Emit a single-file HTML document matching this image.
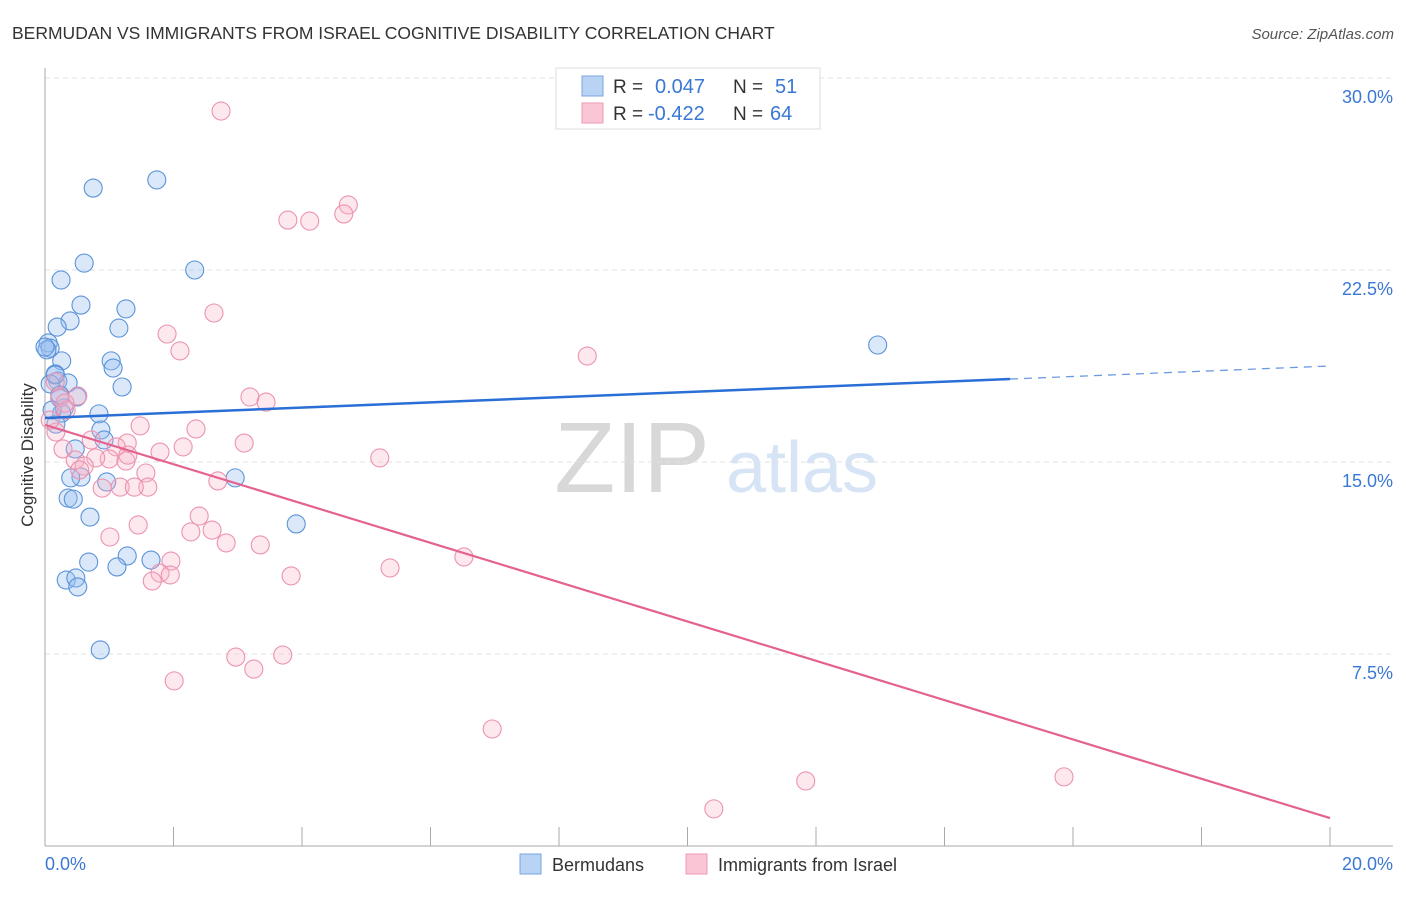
<!DOCTYPE html>
<html><head><meta charset="utf-8"><style>
body{margin:0;background:#fff;font-family:"Liberation Sans",sans-serif;}
svg text{font-family:"Liberation Sans",sans-serif;}
</style></head><body>
<svg id="chart" width="1406" height="892" xmlns="http://www.w3.org/2000/svg">
<text x="12" y="39" font-size="17.5" fill="#333">BERMUDAN VS IMMIGRANTS FROM ISRAEL COGNITIVE DISABILITY CORRELATION CHART</text>
<text x="1394" y="39" font-size="15" fill="#555" font-style="italic" text-anchor="end">Source: ZipAtlas.com</text>
<g>
<text x="632" y="492" font-size="100" fill="#d8d8d8" font-family="Liberation Serif,serif" text-anchor="middle">ZIP</text>
<text x="802" y="492" font-size="72" fill="#d6e4f5" text-anchor="middle">atlas</text>
</g>
<g id="grid"></g>
<g id="axes"></g>
<g id="marks"></g>
<text x="33" y="455" font-size="17" fill="#333" text-anchor="middle" transform="rotate(-90 33 455)">Cognitive Disability</text>
<g>
<rect x="556" y="68" width="264" height="61" fill="#fff" stroke="#ddd"/>
<rect x="582" y="76" width="21" height="20" fill="#b9d3f5" stroke="#7aa6e0"/>
<rect x="582" y="103" width="21" height="20" fill="#fac6d5" stroke="#ee9ab5"/>
<text x="613" y="93" font-size="19" fill="#333">R = </text><text x="655" y="93" font-size="20" fill="#3a78d4">0.047</text>
<text x="733" y="93" font-size="19" fill="#333">N = </text><text x="775" y="93" font-size="20" fill="#3a78d4">51</text>
<text x="613" y="120" font-size="19" fill="#333">R = </text><text x="648" y="120" font-size="20" fill="#3a78d4">-0.422</text>
<text x="733" y="120" font-size="19" fill="#333">N = </text><text x="770" y="120" font-size="20" fill="#3a78d4">64</text>
</g>
<g>
<rect x="520" y="854" width="21" height="20" fill="#b9d3f5" stroke="#7aa6e0"/>
<text x="552" y="871" font-size="18" fill="#333">Bermudans</text>
<rect x="686" y="854" width="21" height="20" fill="#fac6d5" stroke="#ee9ab5"/>
<text x="718" y="871" font-size="18" fill="#333">Immigrants from Israel</text>
</g>
</svg>
<script>
const blueX=[0.75,1.74,0.61,2.33,0.25,0.56,1.26,0.39,0.19,1.15,0.05,0.08,1.03,0.26,1.06,0.16,0.20,0.36,1.20,0.08,0.50,0.23,0.30,0.84,0.26,0.17,0.87,0.92,0.47,0.96,0.56,0.40,0.36,0.44,2.96,0.70,3.91,1.28,1.65,0.68,1.12,0.33,0.48,0.51,0.86,12.96,0.03,0.11,0.23,0.0,0.16];
const blueY=[25.70,26.02,22.77,22.50,22.11,21.13,20.98,20.51,20.27,20.23,19.65,19.45,18.95,18.95,18.67,18.44,18.16,18.09,17.93,18.05,17.54,17.50,17.11,16.88,16.91,16.48,16.25,15.86,15.51,14.22,14.41,14.38,13.59,13.55,14.38,12.85,12.58,11.33,11.17,11.09,10.90,10.39,10.47,10.12,7.66,19.57,19.38,17.03,17.62,19.49,18.40];
const pinkX=[2.74,4.72,4.65,3.78,4.12,2.63,1.90,2.10,8.44,3.19,3.44,0.51,0.16,0.23,0.33,0.17,1.48,2.35,1.28,1.11,2.15,3.10,0.72,1.79,0.28,0.47,1.00,1.26,0.79,0.61,1.57,5.21,2.69,0.89,1.17,1.60,1.39,2.40,1.45,2.27,2.60,1.01,2.82,3.35,1.96,6.52,1.79,1.67,3.83,5.37,2.97,3.70,3.25,2.01,6.96,11.84,15.86,10.41,0.54,0.08,0.31,1.29,1.95];
const pinkY=[28.71,25.04,24.69,24.45,24.41,20.82,20.00,19.34,19.14,17.54,17.34,17.58,18.13,17.54,17.03,16.17,16.41,16.29,15.74,15.59,15.59,15.74,15.86,15.39,15.51,15.08,15.12,15.04,15.16,14.84,14.57,15.16,14.26,13.98,14.02,14.02,14.02,12.89,12.54,12.27,12.34,12.07,11.84,11.76,11.13,11.29,10.66,10.35,10.55,10.86,7.38,7.46,6.91,6.45,4.57,2.54,2.70,1.45,14.69,16.64,17.30,15.27,10.59];
const blueTrend=[16.72,18.24,18.75];
const blueTrendX=[0,15.02,20];
const pinkTrend=[16.45,1.09];
const pinkTrendX=[0,20];
const yTicks=[7.5,15.0,22.5,30.0];
const yTickLabels=["7.5%","15.0%","22.5%","30.0%"];
const xTicks=[0,2,4,6,8,10,12,14,16,18,20];
const NS="http://www.w3.org/2000/svg";
const sx=v=>45+v/20*1285;
const sy=v=>846-v/30*768;
function mk(tag,attrs,parent){const e=document.createElementNS(NS,tag);for(const k in attrs)e.setAttribute(k,attrs[k]);parent.appendChild(e);return e;}
const grid=document.getElementById('grid'),axes=document.getElementById('axes'),marks=document.getElementById('marks');
yTicks.forEach((t,i)=>{
  const l=mk('line',{x1:45,x2:1393,y1:sy(t),y2:sy(t),stroke:'#e2e2e2','stroke-dasharray':'5,4'},grid);
  
  
  const tx=mk('text',{x:1393,y:sy(t)+25,'font-size':18,fill:'#3a78d4','text-anchor':'end'},axes);
  tx.textContent=yTickLabels[i];
  
  
});
const ya=mk('line',{x1:45,x2:45,y1:68,y2:846,stroke:'#aaa'},axes);


const xa=mk('line',{x1:45,x2:1393,y1:846,y2:846,stroke:'#aaa'},axes);


xTicks.forEach(t=>{
  const l=mk('line',{x1:sx(t),x2:sx(t),y1:827,y2:846,stroke:'#aaa'},axes);
  
  
});
const xl0=mk('text',{x:45,y:870,'font-size':18,fill:'#3a78d4'},axes);xl0.textContent='0.0%';


const xl1=mk('text',{x:1393,y:870,'font-size':18,fill:'#3a78d4','text-anchor':'end'},axes);xl1.textContent='20.0%';


blueX.forEach((x,i)=>{
  const c=mk('circle',{cx:sx(x),cy:sy(blueY[i]),r:9,fill:'rgba(150,190,240,0.35)',stroke:'#5b93d8','stroke-width':1.1},marks);
  
  
});
pinkX.forEach((x,i)=>{
  const c=mk('circle',{cx:sx(x),cy:sy(pinkY[i]),r:9,fill:'rgba(248,180,200,0.3)',stroke:'#eb93b0','stroke-width':1.1},marks);
  
  
});
const bt=mk('line',{x1:sx(blueTrendX[0]),y1:sy(blueTrend[0]),x2:sx(blueTrendX[1]),y2:sy(blueTrend[1]),stroke:'#2a6fd6','stroke-width':2.5},marks);


const bd=mk('line',{x1:sx(blueTrendX[1]),y1:sy(blueTrend[1]),x2:sx(blueTrendX[2]),y2:sy(blueTrend[2]),stroke:'#6a9be0','stroke-width':1.3,'stroke-dasharray':'8,6'},marks);


const pt=mk('line',{x1:sx(pinkTrendX[0]),y1:sy(pinkTrend[0]),x2:sx(pinkTrendX[1]),y2:sy(pinkTrend[1]),stroke:'#e4628f','stroke-width':2.2},marks);


</script>
</body></html>
